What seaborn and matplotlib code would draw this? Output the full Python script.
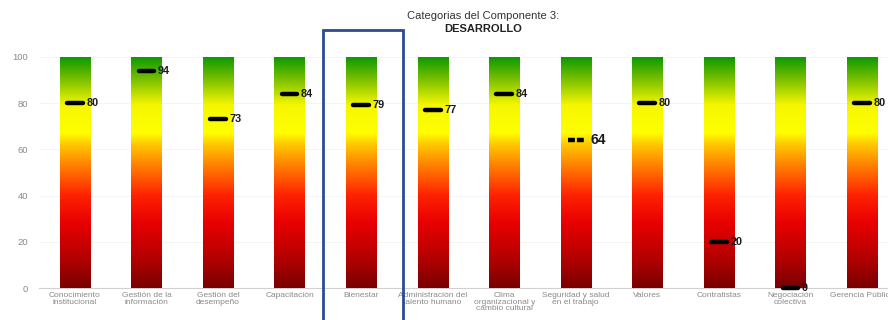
import numpy as np
import pandas as pd
import matplotlib
matplotlib.use("Agg")
import matplotlib.pyplot as plt
import seaborn as sns
from matplotlib.colors import LinearSegmentedColormap
from matplotlib.patches import Rectangle

categories = [
    "Conocimiento\ninstitucional",
    "Gestión de la\ninformación",
    "Gestión del\ndesempeño",
    "Capacitación",
    "Bienestar",
    "Administración del\ntalento humano",
    "Clima\norganizacional y\ncambio cultural",
    "Seguridad y salud\nen el trabajo",
    "Valores",
    "Contratistas",
    "Negociación\ncolectiva",
    "Gerencia Pública",
]
scores = [80, 94, 73, 84, 79, 77, 84, 64, 80, 20, 0, 80]
scale_max = [100] * len(categories)
highlight = "Bienestar"
y_ticks = [0, 20, 40, 60, 80, 100]

sns.set_theme(style="white")
plt.rcParams["font.family"] = ["Liberation Sans", "DejaVu Sans"]

df = pd.DataFrame({"categoria": categories, "max": scale_max, "puntaje": scores})

fig = plt.figure(figsize=(8.88, 3.2), dpi=100)
ax = fig.add_axes([0.044, 0.1, 0.967, 0.722])

bar_w = 0.42
sns.barplot(data=df, x="categoria", y="max", ax=ax, width=bar_w,
            color="white", edgecolor="none", linewidth=0, zorder=2)

# traffic-light gradient, dark red at 0 up to green at 100
cmap = LinearSegmentedColormap.from_list("semaforo", [
    (0.00, "#7a0000"),
    (0.12, "#b00000"),
    (0.28, "#e80000"),
    (0.40, "#ff2200"),
    (0.52, "#ff7a00"),
    (0.62, "#ffc800"),
    (0.67, "#ffff00"),
    (0.79, "#f6f600"),
    (0.90, "#7cc000"),
    (1.00, "#089800"),
])
grad = np.linspace(0, 1, 256).reshape(-1, 1)
for patch in ax.patches:
    x0 = patch.get_x()
    w = patch.get_width()
    h = patch.get_height()
    im = ax.imshow(grad, cmap=cmap, origin="lower", aspect="auto",
                   extent=(x0, x0 + w, 0, h), zorder=3, interpolation="bilinear")
    im.set_clip_path(patch)

# score markers with value labels
for i, v in enumerate(scores):
    dashed = v == 64
    ax.hlines(v, i - 0.11, i + 0.11, colors="black", linewidth=3.2,
              linestyles=(0, (1.55, 0.45)) if dashed else "-",
              zorder=5, clip_on=False, capstyle="butt" if dashed else "round")
    fs = 10 if dashed else 7.8
    dx = 0.2 if dashed else 0.16
    ax.text(i + dx, v, f"{v}", ha="left", va="center", fontsize=fs,
            fontweight="bold", color="#1a1a1a", zorder=6, clip_on=False)

ax.set_xlim(-0.5, len(categories) - 0.5)
ax.set_ylim(0, 100)
ax.set_yticks(y_ticks)
ax.set_yticklabels([str(t) for t in y_ticks], fontsize=6.8, color="#8a8a8a")
ax.tick_params(axis="y", length=0, pad=8)
ax.tick_params(axis="x", length=0, pad=3)
ax.set_xticks(range(len(categories)))
ax.set_xticklabels(categories, fontsize=6.0, color="#8a8a8a", linespacing=0.9)
ax.set_xlabel("")
ax.set_ylabel("")
ax.grid(axis="y", color="#f2f2f2", linewidth=0.6, zorder=0)
for side in ["top", "right", "left"]:
    ax.spines[side].set_visible(False)
ax.spines["bottom"].set_color("#d0d0d0")
ax.spines["bottom"].set_linewidth(0.8)

# frame around the highlighted category
hi = categories.index(highlight)
ax.add_patch(Rectangle((hi - 0.53, -25), 1.11, 136.5, fill=False,
                       edgecolor="#2d4b93", linewidth=2.0, zorder=7, clip_on=False))

fig.text(0.544, 0.95, "Categorias del Componente 3:", ha="center", va="center",
         fontsize=8, color="#333333")
fig.text(0.544, 0.908, "DESARROLLO", ha="center", va="center",
         fontsize=8, fontweight="bold", color="#222222")

fig.savefig("out.png", dpi=100)
